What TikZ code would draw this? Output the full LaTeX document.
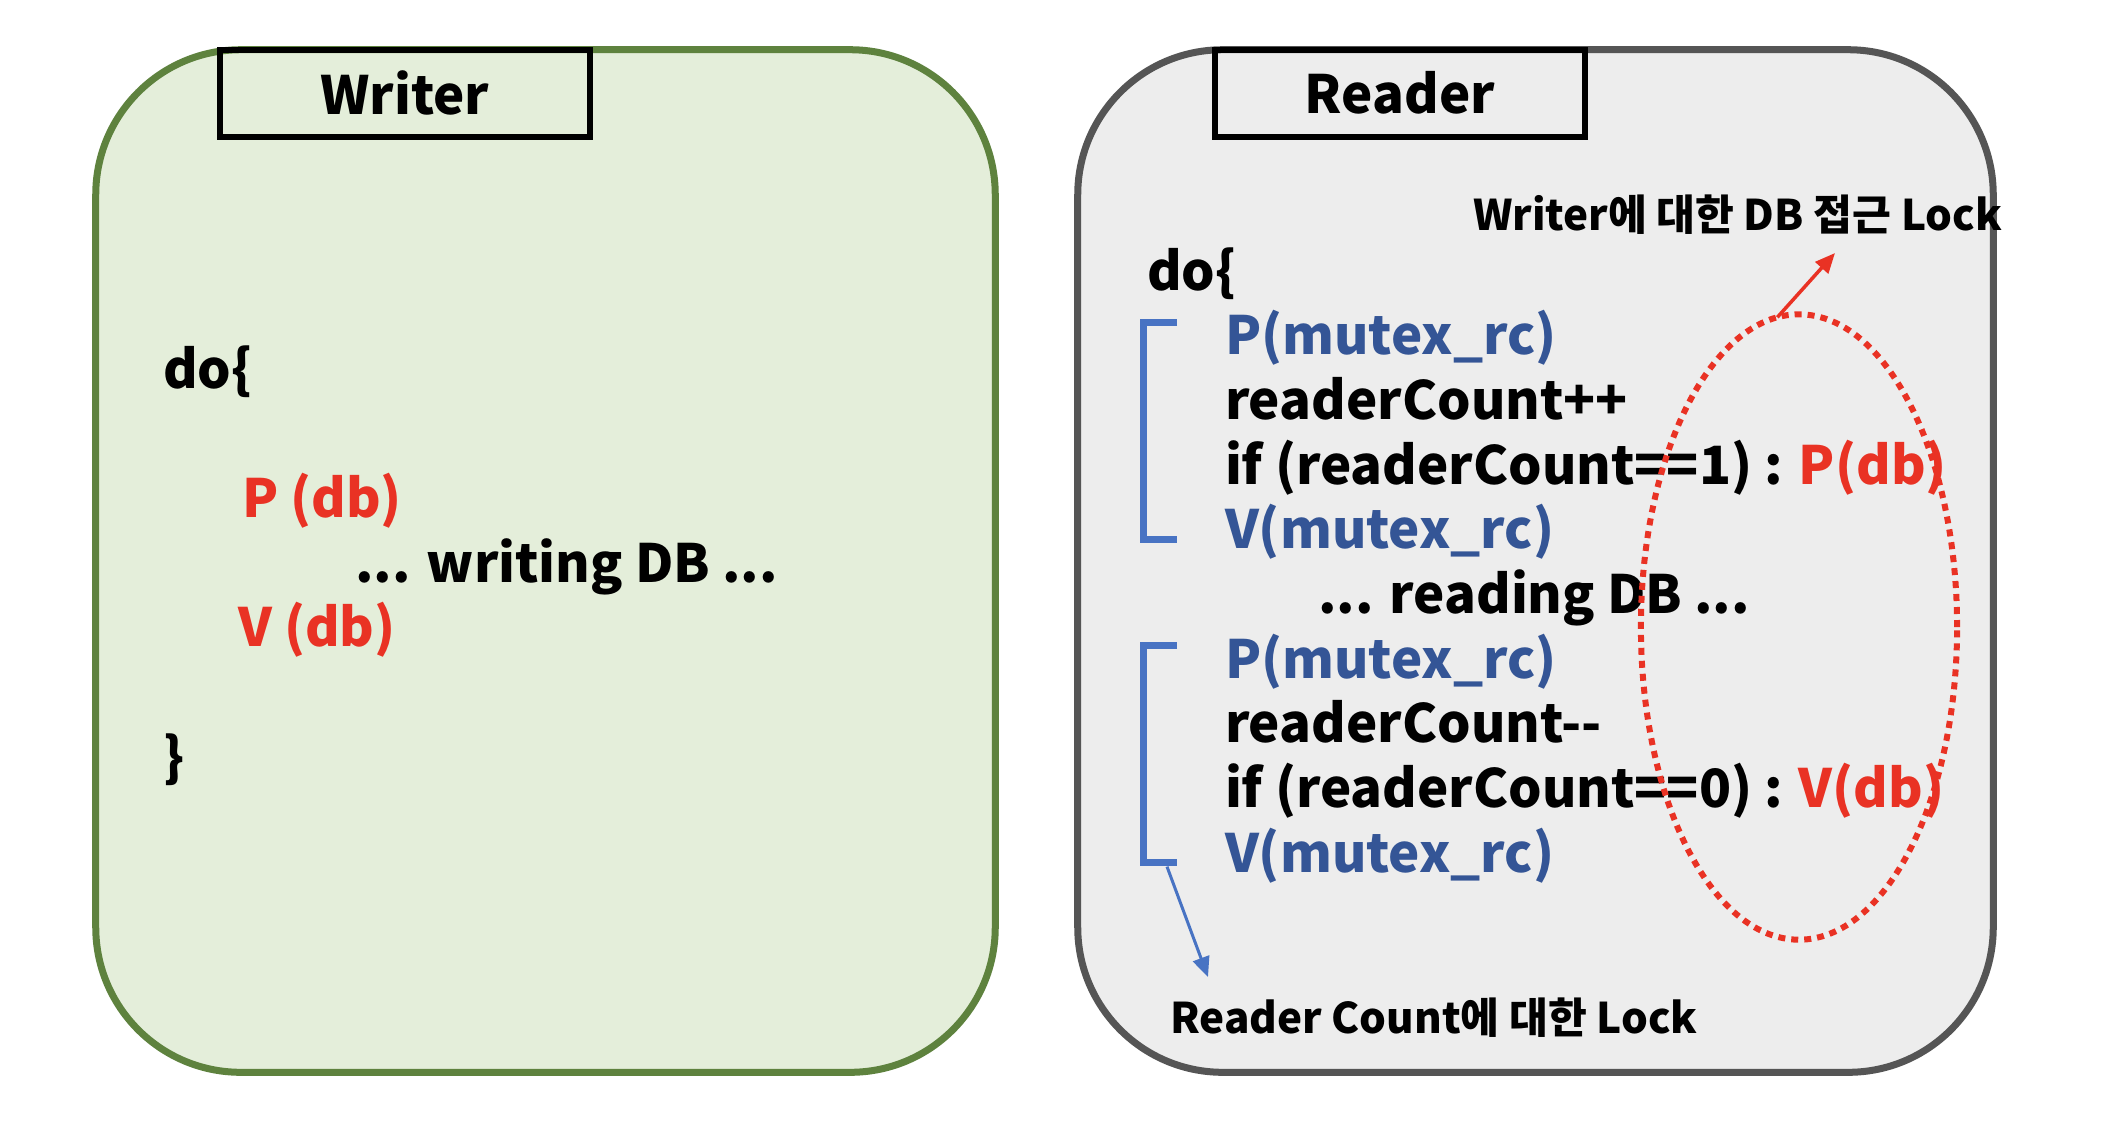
\documentclass[tikz,border=0pt]{standalone}
\usepackage{fontspec}
\setmainfont{Noto Sans CJK KR}
\usepackage{tikz}
\usetikzlibrary{
  arrows.meta,
  positioning,
  shapes.geometric
}
\tikzset{
  every node/.style={inner sep=0pt, outer sep=0pt}
}
\definecolor{writerGreen}{RGB}{228, 238, 218}
\definecolor{writerGreenBorder}{RGB}{94, 130, 62}
\definecolor{readerGray}{RGB}{237, 237, 237}
\definecolor{readerGrayBorder}{RGB}{85, 85, 85}
\definecolor{mutexBlue}{RGB}{52, 85, 150}
\definecolor{bracketBlue}{RGB}{72, 115, 195}
\definecolor{dbRed}{RGB}{233, 50, 36}

\begin{document}
\begin{tikzpicture}[
    x=0.01cm, y=-0.01cm,
    panel/.style={rectangle, rounded corners=1.45cm, line width=0.07cm, minimum height=10.22cm},
    tagbox/.style={rectangle, draw=black, line width=0.06cm, minimum width=3.7cm, minimum height=0.87cm, font=\fontsize{15}{18}\selectfont\bfseries},
    codeline/.style={anchor=north west, text height=13.2pt, text depth=5.2pt, font=\fontsize{15}{18.4}\selectfont\bfseries},
    locknote/.style={anchor=base west, font=\fontsize{12}{14}\selectfont\bfseries},
    bracketline/.style={draw=bracketBlue, line width=0.07cm},
    lockarrow/.style={-{Triangle[length=0.2cm, width=0.17cm]}, draw=bracketBlue, line width=0.03cm},
    dbarrow/.style={-{Triangle[length=0.2cm, width=0.17cm]}, draw=dbRed, line width=0.035cm},
    dotline/.style={draw=dbRed, line width=0.06cm, dash pattern=on 0.07cm off 0.06cm}
]
    \useasboundingbox (0,0) rectangle (2126,1138);

    % two panels
    \node[panel, fill=writerGreen, draw=writerGreenBorder, minimum width=8.99cm] (writer) at (545.5,561) {};
    \node[panel, fill=readerGray, draw=readerGrayBorder, minimum width=9.15cm] (reader) at (1535.5,561) {};

    \node[tagbox, below right=0pt and 1.24cm of writer.north west] (writertag) {Writer};
    \node[tagbox, below right=0pt and 1.37cm of reader.north west] (readertag) {Reader};

    % writer code
    \node[codeline, anchor=base west] (wdo) at (163,388) {do\{};
    \node[below=18.4pt of wdo.south west, xshift=0.79cm, codeline, text=dbRed] (wp) {P (db)};
    \node[below=0pt of wp.south west, xshift=1.13cm, codeline] (wwrite) {... writing DB ...};
    \node[below=0pt of wwrite.south west, xshift=-1.17cm, codeline, text=dbRed] (wv) {V (db)};
    \node[below=18.4pt of wv.south west, xshift=-0.75cm, codeline] (wend) {\}};

    % reader code
    \node[codeline, anchor=base west] (rdo) at (1147,290) {do\{};
    \node[below=0pt of rdo.south west, xshift=0.78cm, codeline, text=mutexBlue] (rp1) {P(mutex\_rc)};
    \node[below=0pt of rp1.south west, codeline] (rinc) {readerCount++};
    \node[below=0pt of rinc.south west, codeline] (rif1) {if (readerCount==1) : \textcolor{dbRed}{P(db)}};
    \node[below=0pt of rif1.south west, codeline, text=mutexBlue] (rv1) {V(mutex\_rc)};
    \node[below=0pt of rv1.south west, xshift=0.93cm, codeline] (rread) {... reading DB ...};
    \node[below=0pt of rread.south west, xshift=-0.93cm, codeline, text=mutexBlue] (rp2) {P(mutex\_rc)};
    \node[below=0pt of rp2.south west, codeline] (rdec) {readerCount-{}-};
    \node[below=0pt of rdec.south west, codeline] (rif2) {if (readerCount==0) : \textcolor{dbRed}{V(db)}};
    \node[below=0pt of rif2.south west, codeline, text=mutexBlue] (rv2) {V(mutex\_rc)};

    % brackets
    \draw[bracketline] ([xshift=-0.48cm, yshift=-0.14cm]rp1.north west) -- ++(-34,0) |- ([xshift=-0.48cm, yshift=0.28cm]rv1.south west);
    \draw[bracketline] ([xshift=-0.48cm, yshift=-0.14cm]rp2.north west) -- ++(-34,0) |- ([xshift=-0.48cm, yshift=0.28cm]rv2.south west) coordinate (brkfoot);

    % lock notes
    \node[locknote] (dbnote) at (1473,230) {Writer에 대한 DB 접근 Lock};
    \node[locknote] (rcnote) at (1170,1033) {Reader Count에 대한 Lock};

    \node[ellipse, dotline, minimum width=3.16cm, minimum height=6.25cm] (dblock) at (1799,627) {};

    \coordinate (rcstart) at ([xshift=-0.1cm, yshift=-0.04cm]brkfoot);
    \coordinate (rctip) at (1208,977);
    \coordinate (dbtip) at (1835,253);

    \draw[lockarrow] (rcstart) -- (rctip);
    \draw[dbarrow] (dblock.94) -- (dbtip);

\end{tikzpicture}
\end{document}
